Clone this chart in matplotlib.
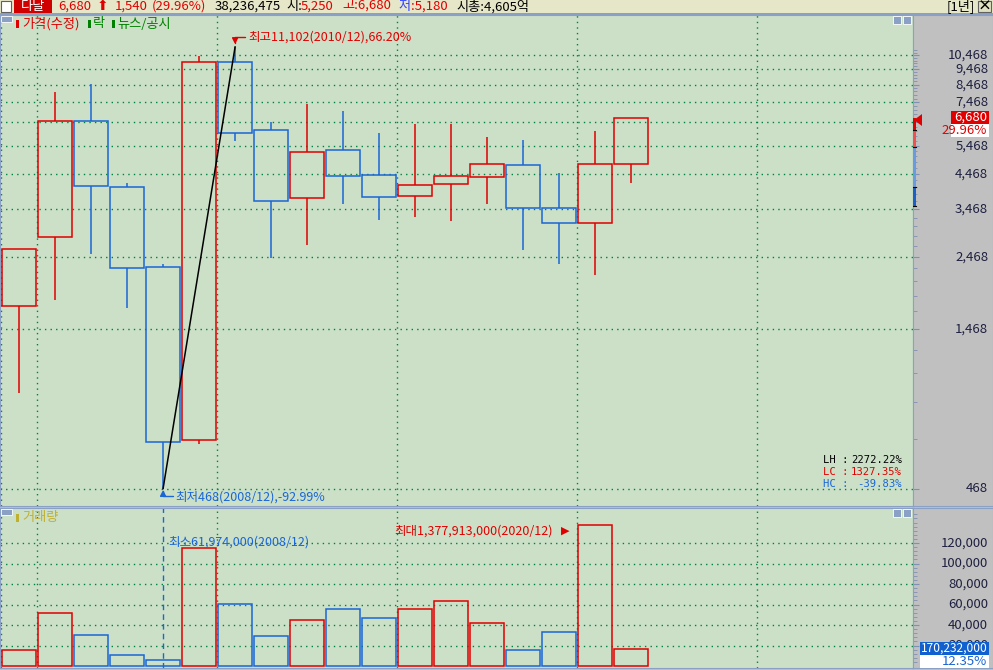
import matplotlib
matplotlib.use('Agg')
import matplotlib.pyplot as plt
from matplotlib.patches import Rectangle, Polygon
from matplotlib.transforms import blended_transform_factory

plt.rcParams['font.family'] = ['Noto Sans CJK KR', 'DejaVu Sans']

# 다날 연봉 (수정주가)
years = list(range(2004, 2022))
opens = [1730, 2850, 6550, 4080, 2290, 661, 10000, 6100, 3750, 5290, 4420, 3800, 4150, 4360, 4760, 3510, 3140, 4790]
highs = [2600, 8030, 8540, 4180, 2340, 10400, 11102, 6470, 7400, 6990, 5980, 6380, 6380, 5810, 5690, 4500, 6070, 6680]
lows = [926, 1810, 2520, 1710, 468, 645, 5660, 2440, 2680, 3610, 3220, 3280, 3190, 3600, 2590, 2340, 2160, 4180]
closes = [2600, 6510, 4110, 2270, 652, 10000, 6010, 3690, 5210, 4390, 3780, 4140, 4400, 4790, 3490, 3140, 4790, 6680]
# 거래량 (주)
volumes = [156000000, 517000000, 302000000, 107000000, 61974000, 1151000000, 605000000, 293000000,
           449000000, 556000000, 468000000, 556000000, 634000000, 420000000, 156000000, 332000000,
           1377913000, 170232000]
prev_close = 5140
vol_change = '12.35%'

price_ticks = [468, 1468, 2468, 3468, 4468, 5468, 6468, 7468, 8468, 9468, 10468]
vol_ticks = [20000, 40000, 60000, 80000, 100000, 120000]  # 만주
band_edges = [6680, 6110, 5420, 4060, 3550]

W, H = 993, 670
RED = '#e00000'
BLUE = '#1a66d6'
BG = '#cce0c8'
GREY = '#c0c0c0'
EDGE = '#8aa0c4'
DOT = '#008040'
NAVY = '#1e2040'


def box(x0, y0, x1, y1):
    return [x0 / W, 1 - y1 / H, (x1 - x0) / W, (y1 - y0) / H]


def rect_px(x0, y0, x1, y1, z=5, **kw):
    fig.add_artist(Rectangle((x0 / W, 1 - y1 / H), (x1 - x0) / W, (y1 - y0) / H,
                             transform=fig.transFigure, zorder=z, **kw))


def text_px(x, y, s, z=6, **kw):
    kw.setdefault('va', 'center')
    kw.setdefault('fontsize', 9)
    fig.text(x / W, 1 - y / H, s, zorder=z, **kw)


fig = plt.figure(figsize=(W / 100, H / 100), dpi=100)
fig.patch.set_facecolor(GREY)

ax = fig.add_axes(box(0, 15, 913, 506))
axr = fig.add_axes(box(913, 15, 993, 506))
axv = fig.add_axes(box(0, 508, 913, 668))
axvr = fig.add_axes(box(913, 508, 993, 668))

x = list(range(len(years)))
up = [c >= o for o, c in zip(opens, closes)]
colors = [RED if u else BLUE for u in up]
vol_man = [v / 10000 for v in volumes]

for a in (ax, axv):
    a.set_facecolor(BG)
    a.set_xlim(-0.53, 24.83)
    a.set_xticks([])
    a.set_yticks([])
    for s in a.spines.values():
        s.set_color(EDGE)
    for gx in [-0.5, 0.5, 5.5, 10.5, 15.5, 20.5]:
        a.axvline(gx, color=DOT, lw=1, ls=(0, (1, 3)), zorder=0)

for a in (axr, axvr):
    a.set_facecolor(GREY)
    a.set_xticks([])
    a.set_xlim(0, 1)
    for s in a.spines.values():
        s.set_color(EDGE)

# ---- 가격 ----
ax.set_yscale('log')
ax.set_ylim(413, 13960)
ax.minorticks_off()
ax.set_yticks([])
for p in price_ticks:
    ax.axhline(p, color=DOT, lw=1, ls=(0, (1, 3)), zorder=0)

body_lo = [min(o, c) for o, c in zip(opens, closes)]
body_hi = [max(o, c) for o, c in zip(opens, closes)]
ax.bar(x, [h - l for h, l in zip(body_hi, body_lo)], bottom=body_lo, width=0.94,
       fill=False, edgecolor=colors, linewidth=1.1, zorder=3)
ax.vlines(x, body_hi, highs, colors=colors, lw=1.1, zorder=3)
ax.vlines(x, lows, body_lo, colors=colors, lw=1.1, zorder=3)

i_hi = highs.index(max(highs))
i_lo = lows.index(min(lows))
last = closes[-1]
ax.plot([i_lo, i_hi], [lows[i_lo], highs[i_hi]], color='black', lw=1.1, zorder=4)

ax.annotate('', xy=(i_hi, highs[i_hi]), xytext=(7.2, 7), textcoords='offset points',
            arrowprops=dict(arrowstyle='-|>,head_length=0.35,head_width=0.18', color=RED, lw=1,
                            connectionstyle='angle,angleA=0,angleB=90,rad=0', shrinkA=0, shrinkB=2))
ax.annotate(f'최고{highs[i_hi]:,}({years[i_hi]}/12),{(highs[i_hi] / last - 1) * 100:.2f}%',
            xy=(i_hi, highs[i_hi]), xytext=(9.4, 6.8), textcoords='offset points',
            color=RED, fontsize=9, ha='left', va='center')
ax.annotate('', xy=(i_lo, lows[i_lo]), xytext=(6.8, -5), textcoords='offset points',
            arrowprops=dict(arrowstyle='-|>,head_length=0.35,head_width=0.18', color=BLUE, lw=1,
                            connectionstyle='angle,angleA=0,angleB=90,rad=0', shrinkA=0, shrinkB=1))
ax.annotate(f'최저{lows[i_lo]:,}({years[i_lo]}/12),{(lows[i_lo] / last - 1) * 100:.2f}%',
            xy=(i_lo, lows[i_lo]), xytext=(8.8, -6.2), textcoords='offset points',
            color=BLUE, fontsize=9, ha='left', va='center')

# 오른쪽 가격축
axr.set_yscale('log')
axr.set_ylim(ax.get_ylim())
axr.set_yticks(price_ticks)
axr.set_yticks(list(range(668, 11000, 200)), minor=True)
axr.tick_params(axis='y', which='both', direction='in', left=True, right=False,
                labelleft=False, color='#8090b0')
axr.tick_params(axis='y', which='major', length=4.5)
axr.tick_params(axis='y', which='minor', length=3)
tr = blended_transform_factory(axr.transAxes, axr.transData)
for p in price_ticks:
    if p == 6468:
        continue
    axr.text(0.94, p, f'{p:,}', transform=tr, ha='right', va='center', color=NAVY, fontsize=9.5)
band_cols = ['#e00000', '#f05050', '#6a9ae0', '#1a60c8']
for k in range(len(band_edges) - 1):
    axr.fill_between([-0.01, 0.035], band_edges[k + 1], band_edges[k], color=band_cols[k], lw=0, zorder=3)
    axr.plot([-0.01, 0.035], [band_edges[k + 1]] * 2, color='black', lw=0.8, zorder=4)

# ---- 거래량 ----
axv.set_ylim(-1950, 154150)
for v in vol_ticks:
    axv.axhline(v, color=DOT, lw=1, ls=(0, (1, 3)), zorder=0)
axv.bar(x, vol_man, width=0.94, fill=False, edgecolor=colors, linewidth=1.1, zorder=3)
i_vmin = volumes.index(min(volumes))
i_vmax = volumes.index(max(volumes))
axv.axvline(i_vmin, color=BLUE, lw=1, ls=(0, (4, 3)), zorder=2)
axv.annotate(f'최소{volumes[i_vmin]:,}({years[i_vmin]}/12)', xy=(i_vmin, vol_man[i_vmin]),
             xytext=(3.6, 84.5), textcoords='offset points', color=BLUE, fontsize=9,
             ha='left', va='center')
axv.annotate(f'최대{volumes[i_vmax]:,}({years[i_vmax]}/12)', xy=(i_vmax, vol_man[i_vmax]),
             xytext=(-30.5, -4.3), textcoords='offset points', color=RED, fontsize=9,
             ha='right', va='center')
axv.annotate('▶', xy=(i_vmax, vol_man[i_vmax]), xytext=(-21.6, -4.3), textcoords='offset points',
             color=RED, fontsize=8, ha='center', va='center', family=['DejaVu Sans'])

axvr.set_ylim(axv.get_ylim())
axvr.set_yticks(vol_ticks)
axvr.set_yticks(list(range(4000, 150000, 4000)), minor=True)
axvr.tick_params(axis='y', which='both', direction='in', left=True, right=False,
                 labelleft=False, color='#8090b0')
axvr.tick_params(axis='y', which='major', length=4.5)
axvr.tick_params(axis='y', which='minor', length=3)
trv = blended_transform_factory(axvr.transAxes, axvr.transData)
for v in vol_ticks:
    axvr.text(0.94, v, f'{v:,}', transform=trv, ha='right', va='center', color=NAVY, fontsize=9.5)

# ---- 상단 바 ----
chg = last - prev_close
pct = f'{chg / prev_close * 100:.2f}%'
rect_px(0, 0, W, 13, z=5, facecolor='#e6e6c8', edgecolor='none')
rect_px(0, 13, W, 15, z=5, facecolor=EDGE, edgecolor='none')
rect_px(1, 1, 11, 12, z=6, facecolor='white', edgecolor='#606060', lw=0.8)
rect_px(14, 0, 52, 13, z=6, facecolor='#d00000', edgecolor='none')
text_px(33, 6.5, '다날', color='white', ha='center', fontsize=9.5)
text_px(58, 6.5, f'{last:,}', color=RED, fontsize=9.5)
text_px(102, 6.5, '⬆', color=RED, ha='center', family=['DejaVu Sans'], fontsize=10)
text_px(115, 6.5, f'{chg:,}', color=RED, fontsize=9.5)
text_px(152, 6.5, f'({pct})', color=RED, fontsize=9.5)
text_px(215, 6.5, f'{38236475:,}', color='black', fontsize=9.5)
text_px(286, 6.5, '시:', color='black', fontsize=9.5)
text_px(301, 6.5, '5,250', color=RED, fontsize=9.5)
text_px(342, 6.5, '고:6,680', color=RED, fontsize=9.5)
text_px(398, 6.5, '저', color='#3040ff', fontsize=9.5)
text_px(411, 6.5, ':5,180', color=RED, fontsize=9.5)
text_px(456, 6.5, '시총:4,605억', color='black', fontsize=9.5)
text_px(975, 6.5, '[1년]', color='black', ha='right', fontsize=9.5)
rect_px(978, 1, 991, 12, z=6, facecolor='#e0e0c0', edgecolor='#606060', lw=0.8)
text_px(984.5, 6.5, '×', color='black', ha='center', fontsize=10, fontweight='bold')

# 패널 장식
for y0 in (16, 509):
    rect_px(1, y0, 12, y0 + 6, z=6, facecolor=EDGE, edgecolor='white', lw=0.6)
    rect_px(893, y0, 901, y0 + 8, z=6, facecolor=EDGE, edgecolor='white', lw=0.6)
    rect_px(903, y0, 911, y0 + 8, z=6, facecolor=EDGE, edgecolor='white', lw=0.6)

rect_px(16, 20, 19, 28, facecolor=RED, edgecolor='none')
text_px(22, 24, '가격(수정)', color=RED, fontsize=9.5)
rect_px(88, 20, 91, 28, facecolor='#008000', edgecolor='none')
text_px(93, 24, '락', color='#008000', fontsize=9.5)
rect_px(112, 20, 115, 28, facecolor='#008000', edgecolor='none')
text_px(117, 24, '뉴스/공시', color='#008000', fontsize=9.5)
rect_px(16, 514, 19, 522, facecolor='#c0b030', edgecolor='none')
text_px(22, 518, '거래량', color='#c0b030', fontsize=9.5)

# LH / LC / HC
mono = dict(family=['DejaVu Sans Mono'], fontsize=7.6)
rows = [('LH', 'black', highs[i_hi] / lows[i_lo]),
        ('LC', RED, last / lows[i_lo]),
        ('HC', BLUE, last / highs[i_hi])]
for k, (lab, col, r) in enumerate(rows):
    text_px(823, 460 + 12 * k, f'{lab} :', color=col, **mono)
    text_px(902, 460 + 12 * k, f'{(r - 1) * 100:.2f}%', color=col, ha='right', **mono)

# 현재가 / 거래량 태그
fig.add_artist(Polygon([(914 / W, 1 - 120 / H), (922 / W, 1 - 114 / H), (922 / W, 1 - 126 / H)],
                       closed=True, transform=fig.transFigure, facecolor=RED, edgecolor='none', zorder=6))
rect_px(951, 111, 989, 124, facecolor=RED, edgecolor='none')
text_px(987, 117.5, f'{last:,}', color='white', ha='right', fontsize=9.5)
rect_px(951, 124, 989, 137, facecolor='white', edgecolor='none')
text_px(987, 130.5, pct, color=RED, ha='right', fontsize=9.5)
rect_px(920, 642, 989, 655, facecolor='#1060d0', edgecolor='none')
text_px(987.5, 648.5, f'{volumes[-1]:,}', color='white', ha='right', fontsize=8.6)
rect_px(920, 655, 989, 668, facecolor='white', edgecolor='none')
text_px(987, 661.5, vol_change, color=BLUE, ha='right', fontsize=9.5)

fig.savefig('out.png', dpi=100, facecolor=fig.get_facecolor())
